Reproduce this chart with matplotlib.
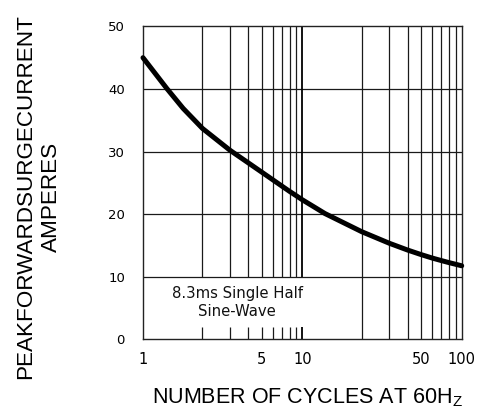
import numpy as np
import matplotlib
matplotlib.use("Agg")
import matplotlib.pyplot as plt
from matplotlib.ticker import FixedLocator, FixedFormatter

plt.rcParams['font.family'] = ['Liberation Sans', 'DejaVu Sans']

# ---- data ----
cycles = [1, 1.275, 1.55, 2, 3, 4, 5, 6, 7, 8, 9, 10, 12.6, 20, 30, 40, 50, 60, 70, 80, 90, 100]
current = [45, 40.1, 36.9, 33.7, 30.2, 28.2, 26.7, 25.5, 24.5, 23.65, 22.94, 22.3, 20.1,
           17.2, 15.35, 14.27, 13.54, 13.0, 12.6, 12.27, 12.0, 11.76]
x_tick_values = [1, 5, 10, 50, 100]
x_tick_labels = ["1", "5", "10", "50", "100"]
y_tick_values = [0, 10, 20, 30, 40, 50]
y_tick_labels = ["0", "10", "20", "30", "40", "50"]
annotation = "8.3ms Single Half\nSine-Wave"
ylabel = "PEAKFORWARDSURGECURRENT\nAMPERES"
xlabel = r"NUMBER OF CYCLES AT 60H$_\mathregular{Z}$"


# ---- the chart's (hand-drawn) per-decade log-like scale ----
def fwd(x):
    x = np.asarray(x, dtype=float)
    out = np.full(x.shape, -10.0)
    pos = x > 0
    with np.errstate(all="ignore"):
        d = np.floor(np.log10(x[pos]) + 1e-12)
        m = x[pos] / 10 ** d
        out[pos] = d + np.log(np.clip(2 * m - 1, 1e-9, None)) / np.log(19)
    return out


def inv(f):
    f = np.asarray(f, dtype=float)
    d = np.floor(f)
    frac = f - d
    return (19 ** frac + 1) / 2 * 10 ** d


fig = plt.figure(figsize=(4.81, 4.12), dpi=100)
ax = fig.add_axes([143 / 481, 1 - 339.4 / 412, (461.7 - 143) / 481, (339.4 - 26.4) / 412])
ax.set_xscale("function", functions=(fwd, inv))
ax.set_xlim(1, 100)
ax.set_ylim(0, 50)

# grid
grid_kw = dict(color="#1a1a1a", linewidth=0.9, zorder=1)
ax.hlines([10, 20, 30, 40], 1, 100, **grid_kw)
first_decade = [m for m in range(2, 10)]
second_decade = [10 * m for m in range(2, 10)]
ax.vlines(first_decade, 10, 50, **grid_kw)
ax.vlines(first_decade, 0, 2, **grid_kw)
ax.vlines([10], 10, 50, color="black", linewidth=1.3, zorder=1)
ax.vlines([10], 0, 2, color="black", linewidth=1.3, zorder=1)
ax.vlines(second_decade, 0, 50, **grid_kw)

# curve
ax.plot(cycles, current, color="black", linewidth=3.6, solid_capstyle="round",
        solid_joinstyle="round", clip_on=False, zorder=3)

ax.text(0.295, 0.118, annotation, transform=ax.transAxes, ha="center", va="center",
        fontsize=10.7, linespacing=1.2, color="#111111", family="DejaVu Sans")

for s in ax.spines.values():
    s.set_linewidth(1.0)
    s.set_color("#222222")

ax.xaxis.set_major_locator(FixedLocator(x_tick_values))
ax.xaxis.set_major_formatter(FixedFormatter(x_tick_labels))
ax.xaxis.set_minor_locator(FixedLocator([]))
ax.yaxis.set_major_locator(FixedLocator(y_tick_values))
ax.yaxis.set_major_formatter(FixedFormatter(y_tick_labels))
ax.tick_params(axis="both", length=0)
ax.tick_params(axis="x", labelsize=10.5, pad=9)
ax.tick_params(axis="y", labelsize=9.5, pad=13)
for lbl in ax.get_xticklabels() + ax.get_yticklabels():
    lbl.set_family("DejaVu Sans")

ax.set_xlabel(xlabel, fontsize=15.5)
ax.xaxis.set_label_coords((307 - 143) / 318.7, (339.4 - 386) / 313)
ax.set_ylabel(ylabel, fontsize=16.2, linespacing=1.28)
ax.yaxis.set_label_coords((62 - 143) / 318.7, (339.4 - 197) / 313)

fig.savefig("out.png", dpi=100)
